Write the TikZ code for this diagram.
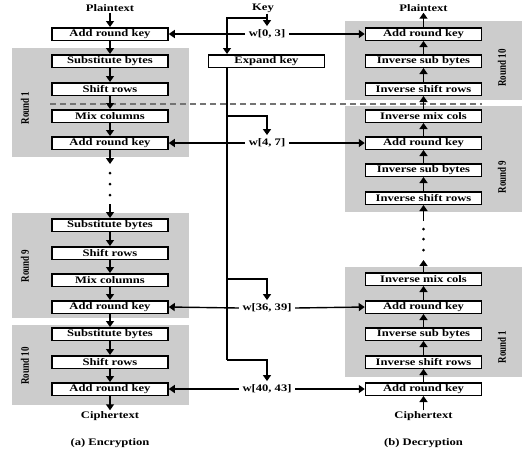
\documentclass[tikz,border=0pt]{standalone}
\usepackage{fontspec}
\setmainfont{Liberation Serif}
\newfontfamily\bxfont[FakeStretch=1.26]{Liberation Serif}
\newfontfamily\rdfont[FakeStretch=0.78]{Liberation Serif}
\usetikzlibrary{arrows.meta}
\begin{document}
\begin{tikzpicture}[x=1pt,y=-1pt,
  stage/.style={draw,line width=1.5pt,fill=white,minimum width=116pt,minimum height=12.5pt,inner sep=0pt,
    font=\bxfont\bfseries\fontsize{10}{10}\selectfont},
  lbl/.style={inner sep=1pt,font=\bxfont\bfseries\fontsize{10}{10}\selectfont},
  wlbl/.style={inner sep=3.5pt,font=\bxfont\bfseries\fontsize{10}{10}\selectfont},
  panel/.style={fill=black!20,draw=none},
  rnd/.style={rotate=90,inner sep=0pt,font=\rdfont\bfseries\fontsize{11.5}{11.5}\selectfont},
  arr/.style={line width=1.4pt,-{Triangle[length=6pt,width=8pt]}},
  ln/.style={line width=1.4pt},
  dotn/.style={circle,fill,inner sep=0pt,minimum size=3pt},
  sep/.style={dash pattern=on 6pt off 4pt,draw=black!55,line width=1.1pt}
]
\useasboundingbox (0,0) rectangle (527,451);
% round panels
\fill[panel] (12,48) rectangle (189,157);
\fill[panel] (12,213) rectangle (189,318);
\fill[panel] (12,325) rectangle (189,405);
\fill[panel] (345,21) rectangle (522,100);
\fill[panel] (345,106) rectangle (522,212);
\fill[panel] (345,267) rectangle (522,377);
\node[rnd] (rl1) at (25,108) {Round 1};
\node[rnd] (rl9) at (25,266) {Round 9};
\node[rnd] (rl10) at (25,366) {Round 10};
\node[rnd] (rr10) at (502,68) {Round 10};
\node[rnd] (rr9) at (502,177) {Round 9};
\node[rnd] (rr1) at (502,347) {Round 1};
% separator
\draw[sep] (50,104) -- (482,104);
% encryption
\node[lbl] (pt1) at (110,8) {Plaintext};
\node[stage] (e0) at (110,34) {Add round key};
\node[stage] (e1) at (110,61) {Substitute bytes};
\node[stage] (e2) at (110,89) {Shift rows};
\node[stage] (e3) at (110,116) {Mix columns};
\node[stage] (e4) at (110,143) {Add round key};
\node[dotn] (ld1) at (110,173) {};
\node[dotn] (ld2) at (110,184) {};
\node[dotn] (ld3) at (110,195) {};
\coordinate (ldA) at (110,164);
\coordinate (ldB) at (110,204);
\node[stage] (e5) at (110,225) {Substitute bytes};
\node[stage] (e6) at (110,253) {Shift rows};
\node[stage] (e7) at (110,280) {Mix columns};
\node[stage] (e8) at (110,307) {Add round key};
\node[stage] (e9) at (110,334) {Substitute bytes};
\node[stage] (e10) at (110,362) {Shift rows};
\node[stage] (e11) at (110,389) {Add round key};
\node[lbl] (ct1) at (110,416) {Ciphertext};
\node[lbl] (capA) at (110,443) {(a) Encryption};
% decryption
\node[lbl] (pt2) at (423.5,8) {Plaintext};
\node[stage] (d0) at (423.5,34) {Add round key};
\node[stage] (d1) at (423.5,61) {Inverse sub bytes};
\node[stage] (d2) at (423.5,89) {Inverse shift rows};
\node[stage] (d3) at (423.5,116) {Inverse mix cols};
\node[stage] (d4) at (423.5,143) {Add round key};
\node[stage] (d5) at (423.5,170) {Inverse sub bytes};
\node[stage] (d6) at (423.5,198) {Inverse shift rows};
\node[dotn] (rd1) at (423.5,229) {};
\node[dotn] (rd2) at (423.5,239) {};
\node[dotn] (rd3) at (423.5,250) {};
\coordinate (rdA) at (423.5,260);
\coordinate (rdB) at (423.5,221);
\node[stage] (d7) at (423.5,279) {Inverse mix cols};
\node[stage] (d8) at (423.5,307) {Add round key};
\node[stage] (d9) at (423.5,334) {Inverse sub bytes};
\node[stage] (d10) at (423.5,362) {Inverse shift rows};
\node[stage] (d11) at (423.5,389) {Add round key};
\node[lbl] (ct2) at (423.5,416) {Ciphertext};
\node[lbl] (capB) at (423.5,443) {(b) Decryption};
% key schedule
\node[lbl] (key) at (263,8) {Key};
\node[stage] (exp) at (266.5,61) {Expand key};
\node[wlbl] (w0) at (267,34) {w[0, 3]};
\node[wlbl] (w1) at (267,143) {w[4, 7]};
\node[wlbl] (w2) at (267,308) {w[36, 39]};
\node[wlbl] (w3) at (267,389) {w[40, 43]};
\coordinate (ks) at (267,18);
\coordinate (xl) at (227,18);
\coordinate (b1) at (227,116);
\coordinate (b2) at (227,279);
\coordinate (b3) at (227,360);
% encryption arrows
\draw[arr] (pt1) -- (e0);
\draw[arr] (e0) -- (e1);
\draw[arr] (e1) -- (e2);
\draw[arr] (e2) -- (e3);
\draw[arr] (e3) -- (e4);
\draw[arr] (e4) -- (ldA);
\draw[arr] (ldB) -- (e5);
\draw[arr] (e5) -- (e6);
\draw[arr] (e6) -- (e7);
\draw[arr] (e7) -- (e8);
\draw[arr] (e8) -- (e9);
\draw[arr] (e9) -- (e10);
\draw[arr] (e10) -- (e11);
\draw[arr] (e11) -- (ct1);
% decryption arrows
\draw[arr] (ct2) -- (d11);
\draw[arr] (d11) -- (d10);
\draw[arr] (d10) -- (d9);
\draw[arr] (d9) -- (d8);
\draw[arr] (d8) -- (d7);
\draw[arr] (d7) -- (rdA);
\draw[arr] (rdB) -- (d6);
\draw[arr] (d6) -- (d5);
\draw[arr] (d5) -- (d4);
\draw[arr] (d4) -- (d3);
\draw[arr] (d3) -- (d2);
\draw[arr] (d2) -- (d1);
\draw[arr] (d1) -- (d0);
\draw[arr] (d0) -- (pt2);
% key arrows
\draw[ln] (key.south -| ks) -- (ks);
\draw[arr] (ks) -- (w0.north);
\draw[arr] (ks) -- (xl) -- (exp.north -| xl);
\draw[ln] (exp.south -| xl) -- (b3);
\draw[arr] (b1) -| (w1.north);
\draw[arr] (b2) -| (w2.north);
\draw[arr] (b3) -| (w3.north);
\foreach \w/\l/\r in {w0/e0/d0, w1/e4/d4, w2/e8/d8, w3/e11/d11} {
  \draw[arr] (\w.west) -- (\l.east);
  \draw[arr] (\w.east) -- (\r.west);
}
\end{tikzpicture}
\end{document}
